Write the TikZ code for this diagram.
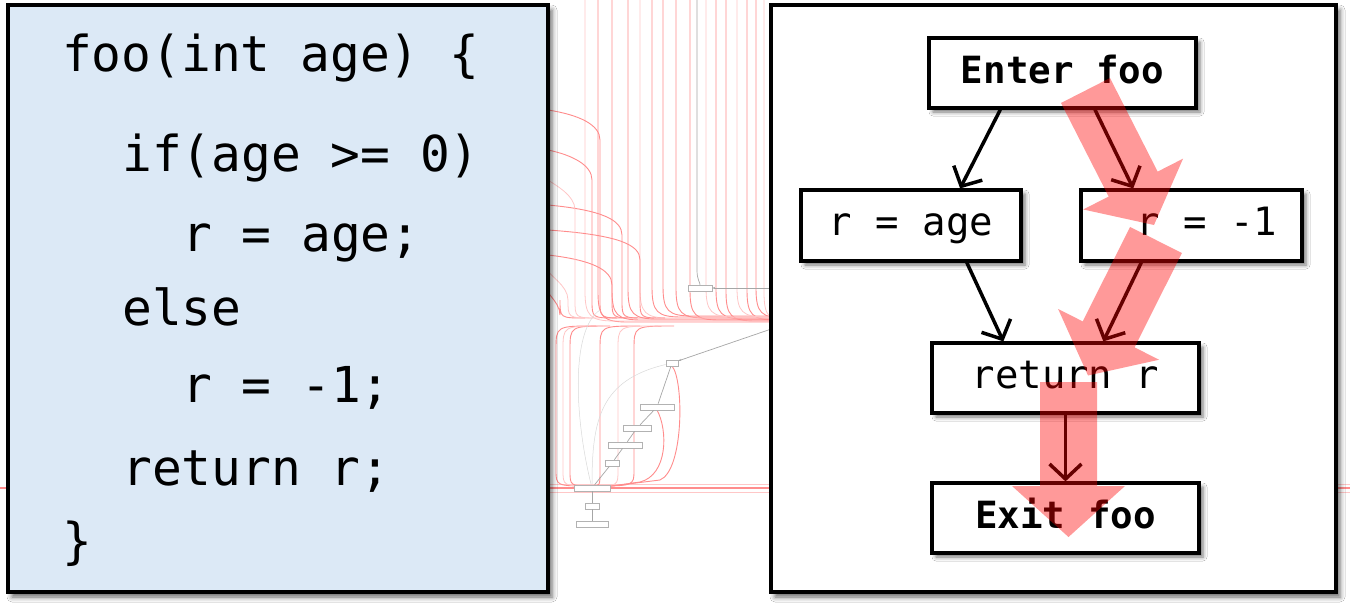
\documentclass[tikz,border=0pt]{standalone}
\usepackage{fontspec}
\newfontfamily\codefont{DejaVu Sans Mono}
\usetikzlibrary{arrows.meta,calc,shadows.blur}

\definecolor{codebg}{HTML}{DCE9F6}

\tikzset{
  panel/.style={draw=black, line width=3.2pt, inner sep=0pt,
    blur shadow={shadow xshift=4pt, shadow yshift=-5pt, shadow blur radius=5pt, shadow opacity=60}},
  cfgbox/.style={draw=black, line width=3.2pt, fill=white, inner sep=0pt,
    text height=30pt, text depth=10pt,
    blur shadow={shadow xshift=4pt, shadow yshift=-4pt, shadow blur radius=4pt, shadow opacity=55}},
  cfgtext/.style={font=\codefont\fontsize{39}{46}\selectfont},
  cfgbold/.style={font=\codefont\bfseries\fontsize{37.5}{45}\selectfont},
  flow/.style={line width=3.5pt, -{Straight Barb[length=15pt,width=32pt,line width=3.5pt]}},
  codeline/.style={anchor=base west, inner sep=0pt, font=\codefont\fontsize{49.5}{60}\selectfont},
  highlight/.style={fill=red, fill opacity=0.4},
  bgline/.style={draw=red!45, line width=0.9pt},
  bgfaint/.style={draw=red!22, line width=0.8pt},
  bggrey/.style={draw=black!35, line width=0.7pt},
  bgnode/.style={draw=black!30, fill=white, line width=0.6pt, inner sep=0pt, minimum height=6pt}
}

\newcommand\hlpiece[5]{($(#1)!#4!90:(#2)$) -- ($(#3)!#4!90:(#2)$) -- ($(#3)!#5!90:(#2)$) -- (#2) -- ($(#3)!#5!-90:(#2)$) -- ($(#3)!#4!-90:(#2)$) -- ($(#1)!#4!-90:(#2)$) -- cycle}

\begin{document}
\begin{tikzpicture}[x=1pt, y=-1pt]
\useasboundingbox (0,0) rectangle (1350,606);
\fill[white] (0,0) rectangle (1350,606);

% ---------- faint background graph ----------
\draw[bgline, line width=1.4pt] (0,488) -- (1350,488);
\draw[bgfaint] (548,484) -- (1350,484);
\draw[bgfaint] (548,492) -- (1350,492);
\foreach \x/\yb in {598/322, 612/320, 628/319, 652/317, 663/316, 676/318, 690/320, 716/319, 726/321, 747/320, 756/318}{
  \draw[bgline] (\x,-2) -- (\x,\yb-30) .. controls (\x,\yb-5) and (\x+5,\yb) .. (\x+30,\yb) -- (780,\yb);
}
\foreach \x/\yb in {585/321, 640/318, 706/317, 737/317, 764/322}{
  \draw[bgfaint] (\x,-2) -- (\x,\yb-30) .. controls (\x,\yb-5) and (\x+5,\yb) .. (\x+30,\yb) -- (780,\yb);
}
\foreach \y/\x in {110/600, 150/592, 205/622, 230/640, 255/612, 285/560}{
  \draw[bgline] (548,\y) .. controls (\x-20,\y+5) and (\x,\y+15) .. (\x,\y+30) -- (\x,300) .. controls (\x,318) and (\x,318) .. (\x+25,318);
}
\foreach \y/\x in {180/575, 270/568}{
  \draw[bgfaint] (548,\y) .. controls (\x-20,\y+5) and (\x,\y+15) .. (\x,\y+30) -- (\x,300) .. controls (\x,318) and (\x,318) .. (\x+25,318);
}
\foreach \x in {556,570,600,634}{
  \draw[bgline] (\x+40,326) .. controls (\x,326) and (\x,326) .. (\x,350) -- (\x,470) .. controls (\x,486) and (\x,486) .. (592,486);
}
\foreach \x in {563,618}{
  \draw[bgfaint] (\x+40,326) .. controls (\x,326) and (\x,326) .. (\x,350) -- (\x,470) .. controls (\x,486) and (\x,486) .. (592,486);
}
\draw[bgline] (672,366) .. controls (684,380) and (684,470) .. (660,480) -- (604,487);
\draw[bgline] (657,410) .. controls (668,430) and (668,475) .. (640,482) -- (604,487);

% grey graph nodes and edges
\node[bgnode, minimum width=24pt] (g1) at (700,288) {};
\node[bgnode, minimum width=12pt] (g2) at (672,363) {};
\node[bgnode, minimum width=34pt] (g3) at (657,407) {};
\node[bgnode, minimum width=28pt] (g4) at (637,428) {};
\node[bgnode, minimum width=34pt] (g5) at (625,445) {};
\node[bgnode, minimum width=14pt] (g6) at (612,463) {};
\node[bgnode, minimum width=36pt] (g7) at (592,488) {};
\node[bgnode, minimum width=14pt] (g8) at (592,506) {};
\node[bgnode, minimum width=32pt] (g9) at (592,524) {};
\coordinate (gin1) at (780,288);
\coordinate (gin2) at (780,326);
\coordinate (gtop) at (697,-2);
\draw[bggrey, -{Stealth[length=3pt]}] (gin1) -- (g1);
\draw[bggrey, -{Stealth[length=3pt]}] (gin2) -- (g2);
\draw[bggrey] (gtop) -- (697,270) .. controls (697,280) and (700,282) .. (g1);
\draw[bggrey] (g2) -- (g3); \draw[bggrey] (g3) -- (g4); \draw[bggrey] (g4) -- (g5);
\draw[bggrey] (g5) -- (g6); \draw[bggrey] (g6) -- (g7); \draw[bggrey] (g7) -- (g8);
\draw[bggrey] (g8) -- (g9);
\draw[draw=black!15, line width=0.5pt] (g2) .. controls (600,380) and (592,420) .. (g7);
\draw[draw=black!15, line width=0.5pt] (600,310) .. controls (570,330) and (575,420) .. (g7);

% ---------- left panel: code ----------
\node[panel, fill=codebg, minimum width=540pt, minimum height=587pt] (codepanel) at (278,298.5) {};
\node[codeline] (l1) at (62,71)  {foo(int age) \{};
\node[codeline] (l2) at (122,171) {if(age >= 0)};
\node[codeline] (l3) at (182,251) {r = age;};
\node[codeline] (l4) at (122,325) {else};
\node[codeline] (l5) at (182,402) {r = -1;};
\node[codeline] (l6) at (122,485) {return r;};
\node[codeline] (l7) at (62,558) {\}};

% ---------- right panel: CFG ----------
\node[panel, fill=white, minimum width=565pt, minimum height=587pt] (cfgpanel) at (1053.5,298.5) {};
\node[cfgbox, cfgbold, minimum width=267pt, minimum height=70pt] (enter) at (1062.5,73) {Enter foo};
\node[cfgbox, cfgtext, minimum width=220pt, minimum height=71pt] (rage) at (911,225.5) {r = age};
\node[cfgbox, cfgtext, minimum width=221pt, minimum height=71pt] (rneg) at (1191.5,225.5) {\hspace*{31pt}r = -1};
\node[cfgbox, cfgtext, minimum width=267pt, minimum height=70pt] (ret) at (1065.5,378) {return r};
\node[cfgbox, cfgbold, minimum width=267pt, minimum height=70pt] (exit) at (1065.5,518) {Exit foo};

\draw[flow] ($(enter.south west)!0.27!(enter.south east)$) -- ($(rage.north west)!0.72!(rage.north east)$);
\draw[flow] ($(enter.south west)!0.62!(enter.south east)$) -- ($(rneg.north west)!0.24!(rneg.north east)$);
\draw[flow] ($(rage.south west)!0.75!(rage.south east)$) -- ($(ret.north west)!0.27!(ret.north east)$);
\draw[flow] ($(rneg.south west)!0.276!(rneg.south east)$) -- ($(ret.north west)!0.64!(ret.north east)$);
\draw[flow] (ret.south) -- (exit.north);

% ---------- red highlighted path ----------
\coordinate (h1s) at (1085.5,90.5);  \coordinate (h1t) at (1154,225);
\coordinate (h2s) at (1156,240);     \coordinate (h2t) at (1088,375.5);
\coordinate (h3s) at (1068.5,382);   \coordinate (h3t) at (1068.5,537);
\coordinate (h1b) at ($(h1s)!105pt!(h1t)$);
\coordinate (h2b) at ($(h2s)!105.6pt!(h2t)$);
\coordinate (h3b) at ($(h3s)!104pt!(h3t)$);
\fill[highlight] \hlpiece{h1s}{h1t}{h1b}{27.5pt}{56pt}
                 \hlpiece{h2s}{h2t}{h2b}{29pt}{56.5pt}
                 \hlpiece{h3s}{h3t}{h3b}{28.5pt}{56.5pt};
\end{tikzpicture}
\end{document}
